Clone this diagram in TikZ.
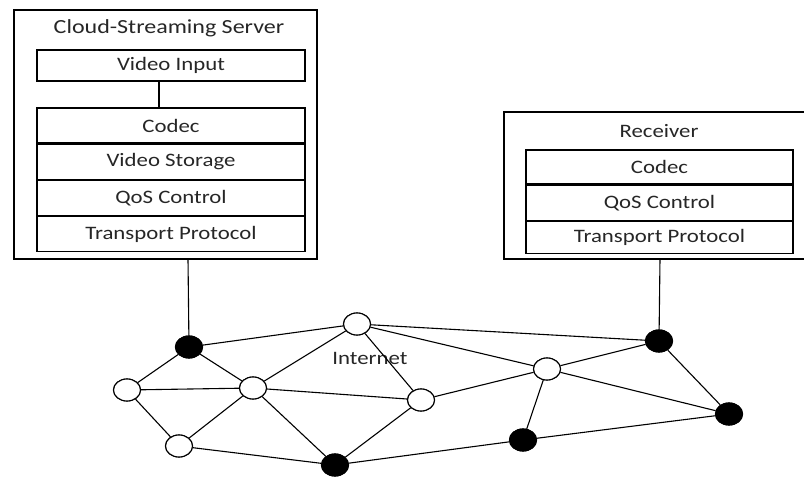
\documentclass[tikz,border=0pt]{standalone}
\usepackage{fontspec}
\setmainfont{Carlito}[FakeStretch=1.2]
\usepackage{tikz}
\usetikzlibrary{positioning,shapes.geometric}
\definecolor{ink}{HTML}{262626}
\tikzset{
    %Define style for the protocol layers
    layer/.style={
           rectangle,
           draw=black, line width=1.2pt,
           minimum width=268pt,
           minimum height=35pt,
           inner sep=0pt,
           text=ink,
           font=\fontsize{19}{22}\selectfont,
           text centered},
    %Define style for the outer boxes
    host/.style={
           rectangle,
           draw=black, line width=1.2pt,
           inner sep=0pt},
    %Define style for titles and labels
    heading/.style={
           text=ink,
           inner sep=0pt,
           font=\fontsize{19}{22}\selectfont},
    %Define style for network nodes
    router/.style={
           ellipse,
           draw=black, line width=1.1pt,
           fill=white,
           minimum width=27pt,
           minimum height=22pt,
           inner sep=0pt},
    gateway/.style={router, fill=black},
    % Define link style
    link/.style={
           line width=1.1pt}
}

\begin{document}
\begin{tikzpicture}[x=1pt,y=-1pt]
\useasboundingbox (0,0) rectangle (804,477);
% server side
\node[host, minimum width=303pt, minimum height=249pt](server) at (165.5,134.5){};
\node[heading, font=\fontsize{20}{23}\selectfont] (stitle) at (169,28){Cloud-Streaming Server};
\node[layer, minimum height=31pt](input) at (171,65.5){Video Input};
\node[layer] (scodec) at (171,125.5){Codec};
\node[layer, below=0pt of scodec](sstore){Video Storage};
\node[layer, below=0pt of sstore](sqos){QoS Control};
\node[layer, below=0pt of sqos](stp){Transport Protocol};
\coordinate (ia) at (159,81);
\coordinate (ib) at (159,108);
\draw[link] (ia) -- (ib);
% receiver side
\node[host, minimum width=304pt, minimum height=147pt](recv) at (656,185.5){};
\node[heading] (rtitle) at (659,131){Receiver};
\node[layer, minimum width=267pt, minimum height=34pt](rcodec) at (659.5,167){Codec};
\node[layer, minimum width=267pt, minimum height=35pt, below=0pt of rcodec](rqos){QoS Control};
\node[layer, minimum width=267pt, minimum height=32pt, below=0pt of rqos](rtp){Transport Protocol};
% network
\node[gateway](b1) at (189,347){};
\node[router](wtop) at (357,324){};
\node[router](wleft) at (127,390){};
\node[router](wcen) at (253,388){};
\node[router](wmid) at (421,400){};
\node[router](wbl) at (179,446){};
\node[gateway](bbot) at (335,465){};
\node[router](wright) at (547,369){};
\node[gateway](brt) at (659,341){};
\node[gateway](bfr) at (729,414){};
\node[gateway](bmb) at (523,440){};
\node[heading] (inet) at (370,358){Internet};
\coordinate (sdrop) at (188,259);
\coordinate (rdrop) at (660,259);
\path[link]
	(sdrop) edge (b1)
	(rdrop) edge (brt)
	(b1) edge (wtop) edge (wleft) edge (wcen)
	(wleft) edge (wcen) edge (wbl)
	(wbl) edge (wcen) edge (bbot)
	(wcen) edge (wtop) edge (wmid) edge (bbot)
	(wtop) edge (wmid) edge (brt) edge (wright)
	(wmid) edge (bbot) edge (wright)
	(bbot) edge (bmb)
	(wright) edge (bmb) edge (brt) edge (bfr)
	(brt) edge (bfr)
	(bmb) edge (bfr);
% redraw nodes on top of links
\foreach \n/\s in {b1/gateway,wtop/router,wleft/router,wcen/router,wmid/router,wbl/router,bbot/gateway,wright/router,brt/gateway,bfr/gateway,bmb/gateway}
  \node[\s] at (\n) {};
\end{tikzpicture}
\end{document}
